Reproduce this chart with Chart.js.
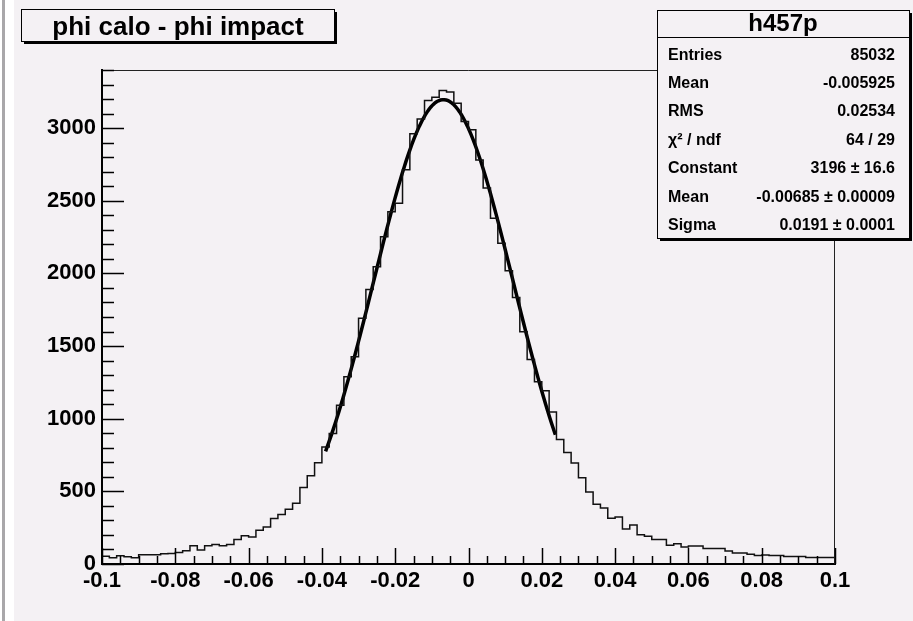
<!DOCTYPE html>
<html>
<head>
<meta charset="utf-8">
<title>phi calo - phi impact</title>
<script src="https://cdn.jsdelivr.net/npm/chart.js@4.4.1/dist/chart.umd.min.js"></script>
<style>
    html, body { margin: 0; padding: 0; background: #ffffff; }
    #histCanvas { display: block; }
</style>
</head>
<body>
<canvas id="histCanvas" width="913" height="621"></canvas>
<script>
// Histogram h457p: 100 bins from -0.1 to 0.1
const xMin = -0.1;
const xMax = 0.1;
const binWidth = 0.002;
const binCounts = [
    54, 43, 57, 50, 43, 64, 64, 64, 70, 73,
    80, 91, 125, 97, 125, 134, 125, 134, 168, 195,
    186, 232, 254, 313, 340, 377, 418, 526, 608, 697,
    806, 898, 1093, 1288, 1426, 1691, 1890, 2046, 2253, 2425,
    2483, 2713, 2961, 3062, 3190, 3213, 3259, 3248, 3172, 3045,
    2988, 2781, 2587, 2380, 2208, 2019, 1835, 1599, 1408, 1254,
    1192, 1047, 857, 767, 696, 593, 496, 411, 386, 315,
    324, 241, 269, 202, 191, 168, 168, 129, 140, 117,
    124, 124, 106, 106, 106, 90, 76, 76, 67, 58,
    62, 58, 58, 51, 51, 51, 44, 44, 44, 44
];

// Gaussian fit results and fit range
const fitConstant = 3196;
const fitMean = -0.00685;
const fitSigma = 0.0191;
const fitRange = [-0.039, 0.0237];

// Axis setup
const yMax = 3400;
const yTickValues = [0, 500, 1000, 1500, 2000, 2500, 3000];
const xMajorStep = 0.02;
const xMinorStep = 0.005;
const yMajorStep = 500;
const yMinorStep = 100;

// Stats box rows
const statsTitle = 'h457p';
const statsLabels = ['Entries', 'Mean', 'RMS', 'χ² / ndf', 'Constant', 'Mean', 'Sigma'];
const statsValues = ['85032', '-0.005925', '0.02534', '64 / 29', '3196 ± 16.6', '-0.00685 ± 0.00009', '0.0191 ± 0.0001'];

const histTitle = 'phi calo - phi impact';

const padColor = '#f4f1f4';
const fontFamily = '"Liberation Sans", Arial, sans-serif';

// Outline points at each bin's low edge, closed at the upper edge
function histPoints() {
    const pts = binCounts.map((c, i) => ({ x: xMin + i * binWidth, y: c }));
    pts.push({ x: xMax, y: binCounts[binCounts.length - 1] });
    return pts;
}

// Fit curve evaluated from the fitted parameters
function fitPoints() {
    const pts = [];
    const n = 120;
    for (let i = 0; i <= n; i++) {
        const x = fitRange[0] + (fitRange[1] - fitRange[0]) * i / n;
        const z = (x - fitMean) / fitSigma;
        pts.push({ x: x, y: fitConstant * Math.exp(-0.5 * z * z) });
    }
    return pts;
}

function formatX(v) {
    const s = parseFloat(v.toFixed(3));
    return s === 0 ? '0' : String(s);
}

// Draws a ROOT style pave box with a dark drop shadow
function drawPave(ctx, x, y, w, h) {
    ctx.fillStyle = '#000000';
    ctx.fillRect(x + 3, y + 3, w, h);
    ctx.fillStyle = padColor;
    ctx.fillRect(x, y, w, h);
    ctx.strokeStyle = '#000000';
    ctx.lineWidth = 1;
    ctx.strokeRect(x + 0.5, y + 0.5, w, h);
}

const padPlugin = {
    id: 'padPlugin',
    beforeDraw(chart) {
        const ctx = chart.ctx;
        ctx.save();
        ctx.fillStyle = padColor;
        ctx.fillRect(0, 0, chart.width, chart.height);
        ctx.fillStyle = '#ffffff';
        ctx.fillRect(0, 0, 14, chart.height);
        ctx.fillStyle = '#a9a7aa';
        ctx.fillRect(2, 0, 3, chart.height);
        ctx.restore();
    },
    afterDraw(chart) {
        const ctx = chart.ctx;
        const area = chart.chartArea;
        const xs = chart.scales.x;
        const ys = chart.scales.y;
        ctx.save();

        // frame top and right edges
        ctx.strokeStyle = '#222222';
        ctx.lineWidth = 1;
        ctx.beginPath();
        ctx.moveTo(area.left, area.top + 0.5);
        ctx.lineTo(area.right - 0.5, area.top + 0.5);
        ctx.lineTo(area.right - 0.5, area.bottom);
        ctx.stroke();

        // inward ticks on the x axis
        ctx.strokeStyle = '#000000';
        ctx.lineWidth = 1.5;
        ctx.beginPath();
        const nx = Math.round((xMax - xMin) / xMinorStep);
        for (let i = 0; i <= nx; i++) {
            const v = xMin + i * xMinorStep;
            const px = Math.round(xs.getPixelForValue(v)) + 0.5;
            const major = i % Math.round(xMajorStep / xMinorStep) === 0;
            ctx.moveTo(px, area.bottom);
            ctx.lineTo(px, area.bottom - (major ? 16 : 8));
        }
        // inward ticks on the y axis
        for (let v = 0; v <= yMax; v += yMinorStep) {
            const py = Math.round(ys.getPixelForValue(v)) + 0.5;
            const major = v % yMajorStep === 0;
            ctx.moveTo(area.left, py);
            ctx.lineTo(area.left + (major ? 22 : 12), py);
        }
        ctx.stroke();

        // title pave
        drawPave(ctx, 21, 9, 313, 32);
        ctx.fillStyle = '#000000';
        ctx.font = 'bold 26px ' + fontFamily;
        ctx.textAlign = 'center';
        ctx.textBaseline = 'alphabetic';
        ctx.fillText(histTitle, 178, 35);

        // stats pave
        const sx = 657, sy = 10, sw = 252, sh = 228;
        drawPave(ctx, sx, sy, sw, sh);
        ctx.beginPath();
        ctx.moveTo(sx, sy + 27.5);
        ctx.lineTo(sx + sw, sy + 27.5);
        ctx.stroke();
        ctx.fillStyle = '#000000';
        ctx.font = 'bold 24px ' + fontFamily;
        ctx.textAlign = 'center';
        ctx.fillText(statsTitle, sx + sw / 2, 31);
        ctx.font = 'bold 16px ' + fontFamily;
        statsLabels.forEach((label, i) => {
            const by = 59.5 + i * 28.4;
            ctx.textAlign = 'left';
            ctx.fillText(label, 668, by);
            ctx.textAlign = 'right';
            ctx.fillText(statsValues[i], 895, by);
        });
        ctx.restore();
    }
};

function initHistChart() {
    const ctx = document.getElementById('histCanvas').getContext('2d');
    return new Chart(ctx, {
        type: 'line',
        data: {
            datasets: [{
                label: 'h457p',
                data: histPoints(),
                borderColor: '#111111',
                borderWidth: 1.5,
                pointRadius: 0,
                stepped: true,
                fill: false
            }, {
                label: 'gaus',
                data: fitPoints(),
                borderColor: '#000000',
                borderWidth: 3.5,
                pointRadius: 0,
                tension: 0,
                fill: false
            }]
        },
        options: {
            responsive: false,
            animation: false,
            devicePixelRatio: 1,
            layout: { padding: { left: 0, top: 70, right: 78, bottom: 0 } },
            scales: {
                x: {
                    type: 'linear',
                    min: xMin,
                    max: xMax,
                    grid: { display: false, drawTicks: false },
                    border: { display: true, color: '#000000', width: 2 },
                    ticks: {
                        stepSize: xMajorStep,
                        maxRotation: 0,
                        autoSkip: false,
                        padding: 4,
                        color: '#000000',
                        font: { family: fontFamily, size: 22, weight: 'bold' },
                        callback: (v) => formatX(v)
                    },
                    afterFit(scale) { scale.height = 57; }
                },
                y: {
                    type: 'linear',
                    min: 0,
                    max: yMax,
                    grid: { display: false, drawTicks: false },
                    border: { display: true, color: '#000000', width: 2 },
                    // labelled ticks only at the multiples of 500 below the top
                    afterBuildTicks(scale) {
                        scale.ticks = yTickValues.map(v => ({ value: v }));
                    },
                    ticks: {
                        autoSkip: false,
                        padding: 6,
                        color: '#000000',
                        font: { family: fontFamily, size: 22, weight: 'bold' },
                        callback: (v) => String(v)
                    },
                    afterFit(scale) { scale.width = 102; }
                }
            },
            plugins: {
                legend: { display: false },
                tooltip: { enabled: false }
            }
        },
        plugins: [padPlugin]
    });
}

document.addEventListener('DOMContentLoaded', function() {
    initHistChart();
});
</script>
</body>
</html>
